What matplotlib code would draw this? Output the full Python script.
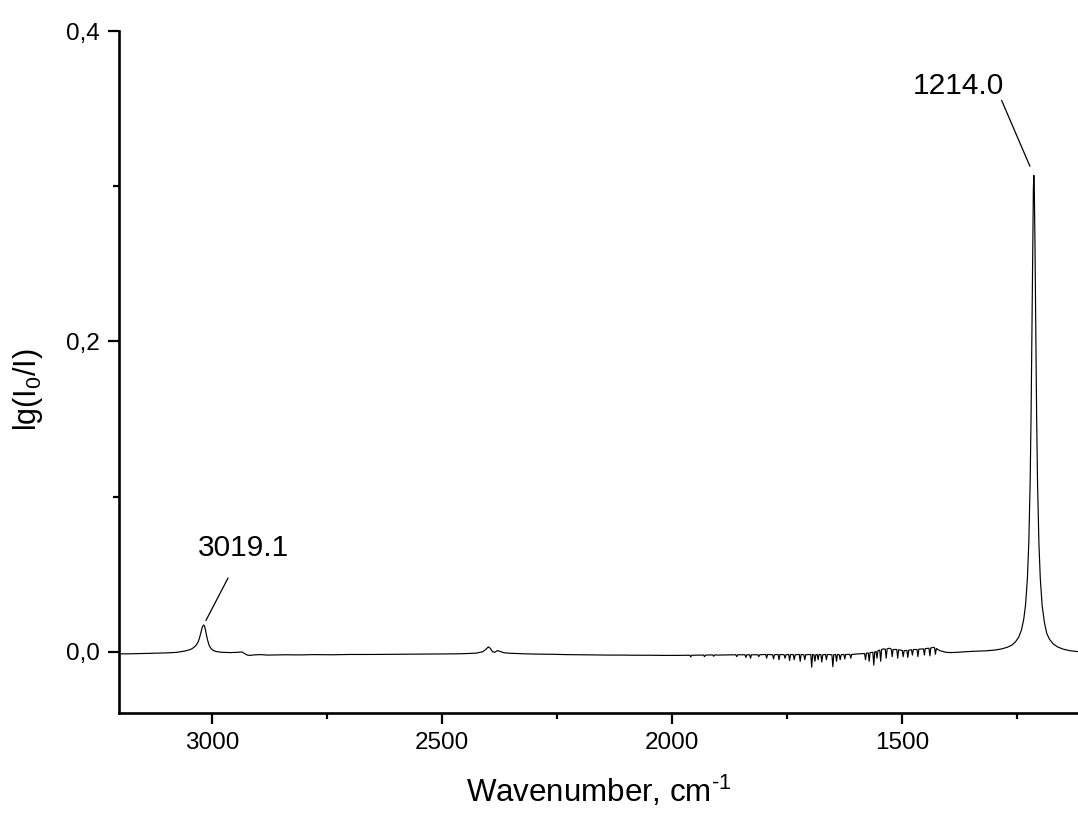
import matplotlib
matplotlib.use("Agg")
import matplotlib.pyplot as plt
from matplotlib.ticker import MultipleLocator, FuncFormatter

plt.rcParams['font.family'] = ['Liberation Sans', 'DejaVu Sans']
plt.rcParams['mathtext.fontset'] = 'custom'
plt.rcParams['mathtext.rm'] = 'Liberation Sans'
plt.rcParams['mathtext.it'] = 'Liberation Sans'

# IR spectrum, wavenumber (cm-1) vs absorbance lg(I0/I), in three pieces

# 3203 - 1908 cm-1: C-H band and flat baseline
wn_hi = [
    3203, 3180, 3150, 3120, 3100, 3080, 3070, 3060, 3052, 3045,
    3040, 3035, 3031, 3028, 3025, 3022, 3019.1, 3017, 3015, 3013,
    3010, 3007, 3003, 2998, 2992, 2980, 2960, 2945, 2936, 2930,
    2924, 2918, 2910, 2895, 2880, 2860, 2840, 2810, 2780, 2740,
    2700, 2650, 2600, 2550, 2500, 2470, 2445, 2425, 2412, 2405,
    2400, 2396, 2391, 2386, 2380, 2374, 2366, 2355, 2340, 2320,
    2290, 2260, 2230, 2200, 2170, 2140, 2110, 2080, 2050, 2020,
    1990, 1962, 1960, 1958, 1932, 1930, 1928, 1912, 1910, 1908,
]
ab_hi = [
    -0.0012, -0.0012, -0.0010, -0.0008, -0.0006, -0.0003, 0.0001, 0.0006, 0.0012, 0.0020,
    0.0030, 0.0045, 0.0065, 0.0090, 0.0125, 0.0160, 0.0174, 0.0166, 0.0142, 0.0110,
    0.0072, 0.0042, 0.0022, 0.0010, 0.0003, -0.0002, -0.0004, -0.0002, 0.0000, -0.0010,
    -0.0020, -0.0022, -0.0019, -0.0017, -0.0020, -0.0019, -0.0018, -0.0019, -0.0017, -0.0018,
    -0.0016, -0.0016, -0.0015, -0.0014, -0.0013, -0.0012, -0.0010, -0.0007, 0.0002, 0.0018,
    0.0033, 0.0024, 0.0002, -0.0002, 0.0009, 0.0003, -0.0005, -0.0008, -0.0010, -0.0012,
    -0.0014, -0.0015, -0.0017, -0.0018, -0.0019, -0.0020, -0.0020, -0.0021, -0.0021, -0.0022,
    -0.0022, -0.0021, -0.0032, -0.0021, -0.0020, -0.0030, -0.0020, -0.0019, -0.0028, -0.0019,
]

# 1900 - 1405 cm-1: water vapour lines
wn_water = [
    1900, 1862, 1860, 1858, 1842, 1840, 1838, 1832, 1830, 1828,
    1814, 1812, 1810, 1797, 1795, 1793, 1782, 1780, 1778, 1770,
    1768, 1766, 1757, 1755, 1753, 1747, 1745, 1743, 1737, 1735,
    1733, 1724, 1722, 1720, 1714, 1712, 1710, 1699, 1697, 1695,
    1692, 1690, 1688, 1685, 1683, 1681, 1677, 1675, 1673, 1667,
    1665, 1663, 1653, 1651, 1649, 1645, 1643, 1641, 1637, 1635,
    1633, 1627, 1625, 1623, 1614, 1612, 1610, 1595, 1582, 1580,
    1578, 1574, 1572, 1570, 1564, 1562, 1560, 1557, 1555, 1553,
    1549, 1547, 1545, 1540, 1537, 1535, 1533, 1528, 1524, 1522,
    1520, 1512, 1510, 1508, 1500, 1498, 1496, 1490, 1488, 1486,
    1480, 1478, 1476, 1468, 1466, 1464, 1454, 1452, 1450, 1442,
    1440, 1438, 1432, 1430, 1428, 1426, 1418, 1405,
]
ab_water = [
    -0.0020, -0.0018, -0.0030, -0.0018, -0.0018, -0.0035, -0.0018, -0.0018, -0.0040, -0.0018,
    -0.0018, -0.0030, -0.0018, -0.0016, -0.0040, -0.0016, -0.0018, -0.0045, -0.0018, -0.0016,
    -0.0050, -0.0016, -0.0018, -0.0040, -0.0018, -0.0016, -0.0055, -0.0016, -0.0018, -0.0050,
    -0.0018, -0.0016, -0.0060, -0.0016, -0.0018, -0.0050, -0.0018, -0.0016, -0.0098, -0.0016,
    -0.0018, -0.0060, -0.0018, -0.0016, -0.0050, -0.0016, -0.0018, -0.0065, -0.0018, -0.0016,
    -0.0050, -0.0016, -0.0018, -0.0095, -0.0018, -0.0016, -0.0060, -0.0016, -0.0018, -0.0050,
    -0.0018, -0.0016, -0.0045, -0.0016, -0.0016, -0.0040, -0.0016, -0.0012, -0.0010, -0.0050,
    -0.0008, -0.0006, -0.0060, -0.0004, -0.0002, -0.0085, 0.0000, 0.0004, -0.0040, 0.0008,
    0.0012, -0.0060, 0.0016, 0.0020, 0.0018, -0.0040, 0.0020, 0.0024, 0.0018, -0.0030,
    0.0016, 0.0016, -0.0040, 0.0014, 0.0010, -0.0030, 0.0008, 0.0010, -0.0035, 0.0012,
    0.0014, -0.0020, 0.0016, 0.0016, -0.0030, 0.0018, 0.0020, -0.0020, 0.0022, 0.0024,
    -0.0025, 0.0026, 0.0030, 0.0028, -0.0015, 0.0022, 0.0008, -0.0002,
]

# 1395 - 1118 cm-1: strong band
wn_band = [
    1395, 1380, 1360, 1340, 1320, 1300, 1285, 1272, 1262, 1254,
    1247, 1241, 1236, 1232, 1228, 1225, 1222, 1220, 1218, 1216.5,
    1215, 1214.0, 1213, 1211.5, 1210, 1208, 1206, 1203, 1200, 1196,
    1191, 1186, 1180, 1172, 1162, 1150, 1135, 1118,
]
ab_band = [
    -0.0004, -0.0002, 0.0002, 0.0005, 0.0007, 0.0012, 0.0019, 0.0030, 0.0044, 0.0065,
    0.0095, 0.0141, 0.0210, 0.0304, 0.0474, 0.0701, 0.1097, 0.1532, 0.2122, 0.2612,
    0.2987, 0.3070, 0.2987, 0.2612, 0.2122, 0.1532, 0.1097, 0.0701, 0.0474, 0.0300,
    0.0190, 0.0120, 0.0082, 0.0052, 0.0032, 0.0018, 0.0008, 0.0002,
]

wavenumber = wn_hi + wn_water + wn_band
absorbance = ab_hi + ab_water + ab_band

# labelled peaks
peak_x = [3019.1, 1214.0]
peak_labels = ['%.1f' % x for x in peak_x]
peak_y = [absorbance[wavenumber.index(x)] for x in peak_x]

fig = plt.figure(figsize=(10.78, 8.14), dpi=100)
ax = fig.add_axes([0.1104, 0.1241, 0.8896, 0.8378])

ax.plot(wavenumber, absorbance, color='black', lw=0.85)

ax.set_xlim(3203, 1118)
ax.set_ylim(-0.0393, 0.4)

for side in ['top', 'right']:
    ax.spines[side].set_visible(False)
for side in ['left', 'bottom']:
    ax.spines[side].set_linewidth(1.9)

ax.xaxis.set_major_locator(MultipleLocator(500))
ax.xaxis.set_minor_locator(MultipleLocator(250))
ax.yaxis.set_major_locator(MultipleLocator(0.2))
ax.yaxis.set_minor_locator(MultipleLocator(0.1))
ax.yaxis.set_major_formatter(FuncFormatter(lambda v, p: ('%.1f' % v).replace('.', ',')))
ax.tick_params(which='major', direction='out', length=8, width=1.6, labelsize=17.5, pad=6)
ax.tick_params(which='minor', direction='out', length=4.5, width=1.6)

ax.set_xlabel('Wavenumber, cm$^{\\text{-1}}$', fontsize=22.5, labelpad=14)
fig.text(0.026, 1 - 390 / 814, 'lg(I$_0$/I)', rotation=90, fontsize=22,
         ha='center', va='center')

# leader lines and text for the two labelled peaks
line_starts = [(17.6, 33.8), (-23.2, 54.0)]
line_gaps = [3.6, 7.2]
text_offsets = [(28.4, 55.4), (-54.3, 64.0)]
for lab, px, py, start, gap, toff in zip(peak_labels, peak_x, peak_y,
                                         line_starts, line_gaps, text_offsets):
    ax.annotate('', xy=(px, py), xytext=start, textcoords='offset points',
                arrowprops=dict(arrowstyle='-', lw=0.9, color='black',
                                shrinkA=0, shrinkB=gap))
    ax.annotate(lab, xy=(px, py), xytext=toff, textcoords='offset points',
                ha='center', va='center', fontsize=21.5)

fig.savefig('out.png', dpi=100)
